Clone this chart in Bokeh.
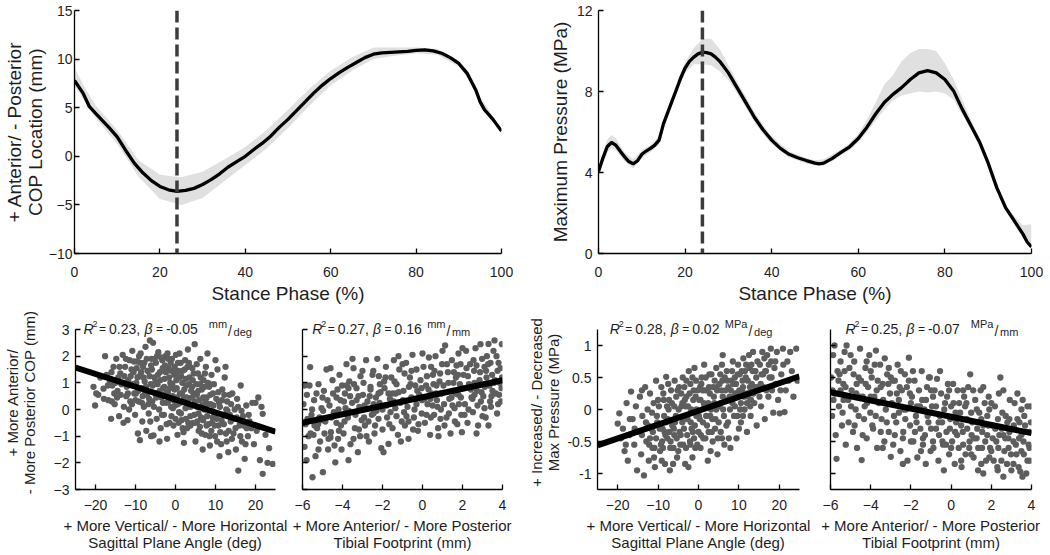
from bokeh.plotting import figure
from bokeh.models import Range1d, FixedTicker, Span, Label
from bokeh.layouts import column, row
from bokeh.embed import file_html
from bokeh.resources import INLINE

# ---------------- data ----------------
phase_ticks = [0, 20, 40, 60, 80, 100]
cop_ticks = [-10, -5, 0, 5, 10, 15]
pr_ticks = [0, 4, 8, 12]
peak_phase = 24

cop_x = [0, 2, 3.5, 5, 6.5, 8, 10, 12, 14, 16, 18, 20, 22, 24, 26, 28, 30, 32, 34, 36, 38, 40,
         42, 44, 46, 48, 50, 52, 54, 56, 58, 60, 62, 64, 66, 68, 70, 72, 74, 76, 78, 80, 82, 84,
         86, 88, 90, 92, 94, 95, 96, 98, 100]
cop_mean = [7.8, 6.5, 5.1, 4.4, 3.7, 3.0, 2.0, 0.6, -0.7, -1.7, -2.5, -3.1, -3.45, -3.6, -3.5,
            -3.3, -2.9, -2.4, -1.8, -1.1, -0.55, 0.0, 0.7, 1.35, 2.1, 3.0, 3.8, 4.7, 5.6, 6.5,
            7.3, 8.0, 8.6, 9.15, 9.65, 10.15, 10.5, 10.65, 10.7, 10.75, 10.8, 10.9, 10.95, 10.85,
            10.6, 10.15, 9.55, 8.5, 6.8, 5.6, 4.8, 3.8, 2.6]
cop_band_x = [0, 2, 5, 10, 15, 20, 25, 30, 35, 40, 45, 50, 55, 60, 65, 70, 75, 80, 85, 90, 92, 94, 95, 100]
cop_lo = [7.3, 5.9, 3.9, 1.3, -2.1, -4.4, -5.0, -4.3, -2.6, -0.9, 0.8, 2.9, 5.2, 7.3, 8.8, 10.0,
          10.35, 10.6, 10.45, 9.25, 8.1, 6.4, 5.2, 2.4]
cop_hi = [9.1, 7.4, 5.2, 2.7, -0.4, -1.9, -2.15, -1.6, -0.35, 0.95, 2.7, 4.8, 6.95, 8.8, 10.2,
          11.2, 11.2, 11.2, 11.05, 9.85, 8.9, 7.2, 6.1, 2.8]

pr_x = [0, 1, 2, 3, 4, 5, 6, 7, 8, 9, 10, 11, 12, 13, 14, 15, 16, 17, 18, 19, 20, 21, 22, 23, 24,
        25, 26, 27, 28, 30, 32, 34, 36, 38, 40, 42, 44, 46, 48, 50, 51, 52, 54, 56, 58, 60, 62,
        64, 66, 68, 70, 72, 74, 76, 78, 80, 82, 84, 86, 88, 90, 92, 94, 96, 98, 99, 100]
pr_mean = [4.05, 4.7, 5.27, 5.48, 5.35, 5.06, 4.78, 4.54, 4.43, 4.57, 4.9, 5.06, 5.19, 5.35, 5.6,
           6.4, 6.97, 7.54, 8.1, 8.68, 9.16, 9.49, 9.7, 9.86, 9.94, 9.92, 9.86, 9.7, 9.49, 8.92,
           8.19, 7.46, 6.73, 6.11, 5.6, 5.19, 4.9, 4.73, 4.59, 4.46, 4.43, 4.46, 4.7, 4.99, 5.27,
           5.68, 6.24, 6.89, 7.46, 7.86, 8.19, 8.59, 8.92, 9.03, 8.92, 8.59, 8.03, 7.13, 6.32,
           5.51, 4.46, 3.24, 2.27, 1.62, 0.97, 0.57, 0.32]
pr_band_x = [0, 2, 3, 4, 6, 8, 10, 12, 14, 16, 18, 20, 22, 24, 26, 28, 30, 32, 34, 36, 38, 40, 44,
             48, 50, 52, 54, 56, 58, 60, 62, 64, 66, 68, 70, 72, 74, 76, 78, 80, 82, 84, 86, 88,
             90, 92, 94, 96, 98, 100]
pr_lo = [3.85, 5.0, 5.2, 5.1, 4.55, 4.2, 4.7, 5.0, 5.4, 6.8, 7.9, 8.9, 9.35, 9.35, 9.3, 9.0, 8.55,
         7.9, 7.2, 6.5, 5.9, 5.4, 4.75, 4.45, 4.35, 4.35, 4.55, 4.85, 5.1, 5.5, 6.0, 6.55, 7.1,
         7.55, 7.8, 7.9, 8.0, 7.95, 8.0, 7.9, 7.6, 6.85, 6.1, 5.3, 4.3, 3.1, 2.15, 1.45, 0.8, 0.25]
pr_hi = [4.25, 5.6, 5.85, 5.7, 5.0, 4.65, 5.1, 5.35, 5.8, 7.15, 8.3, 9.45, 10.15, 10.6, 10.6, 10.1,
         9.3, 8.5, 7.75, 7.0, 6.35, 5.8, 5.05, 4.7, 4.6, 4.65, 4.9, 5.15, 5.45, 5.9, 6.6, 7.45,
         8.35, 8.8, 9.5, 9.9, 10.1, 10.1, 10.0, 9.4, 8.6, 7.6, 6.6, 5.7, 4.65, 3.4, 2.4, 1.85,
         1.4, 1.45]

angle_ticks = [-20, -10, 0, 10, 20]
foot_ticks = [-6, -4, -2, 0, 2, 4]
dcop_ticks = [-3, -2, -1, 0, 1, 2, 3]
dpr_ticks = [-1, -0.5, 0, 0.5, 1]

# panel 1: sagittal angle (deg) vs COP change (mm)
angle_cop_pts = [
    (-20.5, 0.85), (-20.1, 0.15), (-19.3, 0.55), (-18.0, 0.78), (-17.6, 2.0), (-17.2, 1.3),
    (-16.8, 0.35), (-16.4, 1.05), (-18.8, 1.2), (-16.1, -0.35),
    (-15.5, 1.6), (-15.2, 0.2), (-14.8, 1.9), (-14.5, 0.7), (-14.1, -0.25), (-13.8, 1.35),
    (-13.5, 0.95), (-13.2, 2.05), (-12.9, 0.1), (-12.6, 1.6), (-12.3, 0.5), (-12.0, -0.4),
    (-11.8, 1.1), (-11.5, 1.85), (-11.3, 0.3), (-15.8, 0.9), (-13.0, -0.5), (-14.0, 1.6),
    (-10.8, 2.2), (-10.5, 1.4), (-10.3, 0.6), (-10.1, -0.2), (-9.8, 1.0), (-9.6, 1.8),
    (-9.4, -0.9), (-9.2, 0.3), (-9.0, 1.25), (-8.9, -1.15), (-8.7, 2.1), (-8.5, 0.8),
    (-8.3, -0.45), (-8.1, 1.6), (-7.9, 0.1), (-7.7, 1.05), (-7.5, 2.35), (-7.3, -0.8),
    (-7.1, 0.55), (-6.9, 1.45), (-6.7, -0.15), (-6.4, 2.59), (-6.2, 0.95), (-6.0, 1.9), (-6.1, -1.0),
    (-5.8, 0.3), (-5.6, 2.5), (-5.5, -0.97), (-5.3, 1.2), (-5.1, 0.6), (-4.9, 1.75), (-4.7, -0.35),
    (-4.5, 0.95), (-4.3, 2.15), (-4.1, 0.0), (-3.9, 1.4), (-3.7, -0.7), (-3.5, 0.45), (-3.3, 1.85),
    (-3.1, 0.8), (-2.9, -0.2), (-2.7, 1.15), (-2.5, 2.0), (-2.3, 0.25), (-2.1, -1.1), (-1.9, 0.65),
    (-1.7, 1.55), (-1.5, -0.5), (-1.3, 1.0), (-1.1, 0.1), (-2.0, 2.1), (-4.0, -1.2), (-3.0, 0.5),
    (-0.9, 1.9), (-0.7, 0.5), (-0.5, -0.6), (-0.3, 1.3), (-0.1, 0.15), (0.1, 2.05), (0.3, 0.8),
    (0.5, -0.95), (0.7, 1.45), (0.9, -0.1), (1.1, 0.6), (1.3, 1.75), (1.5, -0.4), (1.7, 1.0),
    (1.9, 0.3), (2.1, -1.25), (2.3, 1.5), (2.5, 0.05), (2.7, 0.9), (2.9, -0.7), (3.1, 2.25),
    (3.3, 0.4), (3.5, 1.2), (3.7, -0.25), (3.9, 0.7), (1.0, 2.1), (2.0, -0.85), (3.0, 1.6),
    (4.2, 1.55), (4.4, -0.5), (4.6, 0.6), (4.8, 2.45), (5.0, -1.2), (5.2, 0.95), (5.4, 0.1),
    (5.6, 1.35), (5.8, -0.8), (6.0, 0.35), (6.2, 1.9), (6.4, -0.3), (6.6, 0.75), (6.8, -1.5),
    (7.0, 1.1), (7.2, 0.0), (7.4, -0.95), (7.6, 1.6), (7.8, 0.45), (8.0, 2.1), (8.2, -0.55),
    (8.4, 0.85), (8.6, -1.35), (8.8, 0.2), (9.0, 1.3),
    (9.3, -0.3), (9.6, 0.95), (9.9, -1.0), (10.2, 0.4), (10.5, 1.5), (10.8, -0.6), (11.1, 0.1),
    (11.4, -1.3), (11.7, 0.75), (12.0, -0.2), (12.3, 1.2), (12.6, -0.9), (12.9, 0.3), (13.2, -1.6),
    (13.5, 0.55), (13.8, -0.45), (10.0, 1.85), (11.0, -1.75), (12.5, 1.6), (13.0, -0.05),
    (14.2, 0.6), (14.5, -0.9), (14.8, 0.0), (15.1, -1.5), (15.4, 0.4), (15.7, -2.29), (16.0, -0.6),
    (16.3, 0.9), (16.6, -1.2), (16.9, -0.25), (17.3, -1.85), (17.7, 0.15), (18.1, -1.0), (18.5, -0.45),
    (19.2, 0.25), (19.6, -1.3), (20.0, 0.25), (20.3, -0.8), (20.7, 0.45), (21.1, -1.9), (21.5, 0.1),
    (21.8, -0.16), (21.8, -2.41), (22.5, -0.95), (23.4, -1.45), (24.3, -2.04), (23.0, -2.0),
    (-14.6, 0.45), (-13.7, 0.55), (-12.8, 1.25), (-12.2, 0.85), (-11.6, 0.0), (-11.0, 1.5),
    (-10.6, 0.95), (-10.0, 0.35), (-9.7, 1.55), (-9.3, 0.7), (-8.8, 1.75), (-8.4, 0.25),
    (-8.0, 1.2), (-7.6, 0.6), (-7.2, 1.9), (-6.8, 0.2), (-6.5, 1.25), (-6.3, -0.45), (-5.9, 1.5),
    (-5.4, 0.1), (-5.0, 1.05), (-4.6, 2.0), (-4.2, 0.5), (-3.8, 1.1), (-3.4, -0.2), (-3.2, 1.55),
    (-2.8, 0.85), (-2.4, 1.4), (-2.2, -0.55), (-1.8, 0.3), (-1.6, 1.2), (-1.2, 1.75), (-1.0, -0.25),
    (-0.8, 0.95), (-0.4, 0.35), (-0.2, 1.6), (0.0, -0.35), (0.2, 1.1), (0.4, 0.45), (0.6, 1.75),
    (0.8, -0.5), (1.2, 0.25), (1.4, 1.25), (1.6, 0.6), (1.8, -0.7), (2.2, 0.75), (2.4, 1.85),
    (2.6, -0.35), (2.8, 0.45), (3.2, -0.5), (3.4, 0.95), (3.6, 1.6), (3.8, 0.1), (4.1, 0.45),
    (4.3, 1.1), (4.7, -0.2), (4.9, 0.3), (5.3, 1.7), (5.5, -0.45), (5.7, 0.7), (6.1, -0.65),
    (6.3, 1.2), (6.7, 0.15), (6.9, -0.4), (7.3, 0.85), (7.5, 0.3), (7.9, -0.25), (8.1, 1.0),
    (8.5, -1.0), (8.7, 0.55), (9.1, -0.5), (9.5, 0.15), (9.8, -0.6), (10.3, -0.35), (10.7, 0.65),
    (11.2, -0.85), (11.6, 0.35), (12.1, -0.55), (12.7, 0.0), (13.3, -0.8), (13.9, 0.2),
    (14.4, -0.35), (15.0, -0.7), (15.6, 0.1), (16.2, -1.0), (17.0, -0.6), (17.5, -1.3),
    (18.3, -0.2), (19.0, -0.7), (-16.9, 0.9), (-15.9, 0.3), (-15.0, 1.0), (-17.9, 0.4), (-19.8, 0.6),
    (-13.3, 1.0), (-12.4, 1.9), (-11.9, 0.6), (-11.2, 1.25), (-10.9, 0.2), (-10.4, 1.8),
    (-9.9, 0.6), (-9.5, 1.2), (-9.1, 2.0), (-8.6, 1.4), (-8.2, 0.5), (-7.8, 1.75), (-7.4, 0.85),
    (-7.0, 1.45), (-6.6, 0.4), (-6.1, 1.65), (-5.7, 0.9), (-5.2, 1.9), (-4.8, 0.45), (-4.4, 1.3),
    (-3.95, 0.7), (-3.6, 1.95), (-3.15, 0.25), (-2.65, 1.65), (-2.35, 0.6), (-1.85, 1.9),
    (-1.45, 0.8), (-1.05, 1.45), (-0.65, 0.05), (-0.25, 0.75), (0.15, 1.4), (0.55, 0.2),
    (0.95, 1.2), (1.35, -0.15), (1.75, 1.45), (2.15, 0.45), (2.55, 1.15), (2.95, 0.1),
    (3.35, 1.75), (3.75, -0.6), (4.15, 0.85), (4.55, 1.35), (4.95, -0.5), (5.35, 0.55),
    (5.75, -0.15), (6.15, 0.95), (6.55, -0.9), (6.95, 0.45), (7.35, 1.35), (7.75, -0.6),
    (8.15, 0.2), (8.55, 0.95), (8.95, -0.8), (9.35, 0.6), (9.75, -0.2), (10.4, -1.2),
    (10.9, 0.25), (11.5, -0.4), (12.2, 0.55), (12.8, -1.2), (13.6, -0.2), (14.1, -1.1),
    (15.3, -0.3), (16.5, -0.05), (17.8, -0.7), (-16.0, 1.4), (-14.3, 1.2), (-15.3, 0.6),
]
angle_cop_fit_x = [-25, 25]
angle_cop_fit_y = [1.57, -0.83]

# panel 2: tibial footprint (mm) vs COP change (mm)
foot_cop_pts = [
    (-5.95, 0.2), (-5.9, -1.4), (-5.85, -0.55), (-5.78, 0.55), (-5.7, -1.0), (-5.62, 1.59),
    (-5.55, -0.2), (-5.5, -2.54), (-5.42, 0.35), (-5.35, -1.75), (-5.27, -0.7), (-5.2, 0.95),
    (-5.12, -1.2), (-5.05, 0.05), (-4.98, -2.35), (-5.6, -0.9), (-5.3, 0.6), (-5.8, -1.9),
    (-4.93, 0.7), (-4.86, -0.45), (-4.8, 1.5), (-4.72, -1.5), (-4.65, 0.15), (-4.58, -0.85),
    (-4.5, 1.1), (-4.43, -0.1), (-4.36, -1.98), (-4.3, 0.45), (-4.22, -1.1), (-4.15, 1.3),
    (-4.08, -0.6), (-4.02, 0.9), (-4.6, 1.55), (-4.4, -1.35), (-4.2, 0.0), (-4.75, 0.35),
    (-3.95, -0.9), (-3.88, 0.6), (-3.8, 1.7), (-3.73, -0.3), (-3.66, 1.05), (-3.6, -1.3),
    (-3.52, 0.25), (-3.45, 1.55), (-3.38, -0.7), (-3.3, 0.8), (-3.23, -1.6), (-3.16, 0.1),
    (-3.1, 1.25), (-3.04, -0.4), (-3.7, -1.9), (-3.5, 1.9), (-3.2, 0.5), (-3.85, 0.05),
    (-2.95, 1.0), (-2.88, -0.6), (-2.82, 1.85), (-2.75, 0.3), (-2.68, -1.2), (-2.6, 0.75),
    (-2.53, -0.2), (-2.46, 1.45), (-2.4, -0.9), (-2.33, 0.45), (-2.26, 1.9), (-2.2, -0.35),
    (-2.13, 0.95), (-2.06, -1.45), (-2.9, 0.15), (-2.5, 1.3), (-2.3, -0.05), (-2.1, 0.65),
    (-1.95, -1.6), (-1.9, 0.8), (-1.83, 1.6), (-1.77, -0.3), (-1.7, -1.29), (-1.63, 0.4),
    (-1.56, 1.2), (-1.5, -0.7), (-1.43, 1.85), (-1.36, 0.05), (-1.3, 0.95), (-1.23, -0.95),
    (-1.16, 1.5), (-1.1, 0.25), (-1.04, -0.45), (-1.8, 0.15), (-1.4, 1.05), (-1.2, 2.0),
    (-0.95, 0.7), (-0.88, -0.6), (-0.82, 1.75), (-0.75, 0.1), (-0.7, -1.1), (-0.63, 1.2),
    (-0.56, 0.45), (-0.5, 2.05), (-0.43, -0.3), (-0.36, 0.9), (-0.3, 1.5), (-0.23, -0.8),
    (-0.16, 0.55), (-0.1, 1.1), (-0.04, -0.15), (-0.6, 0.95), (-0.3, 0.2), (-0.9, 1.35),
    (0.05, 1.6), (0.12, -0.5), (0.18, 0.9), (0.25, 0.2), (0.32, 1.95), (0.38, -0.95),
    (0.45, 0.6), (0.52, 1.3), (0.58, -0.2), (0.65, 2.0), (0.72, 0.35), (0.78, -0.7),
    (0.85, 1.05), (0.92, 0.0), (0.98, 1.7), (0.3, 0.75), (0.6, 1.45), (0.9, -0.35),
    (1.05, 0.9), (1.13, 2.4), (1.2, -0.3), (1.27, 1.4), (1.34, 0.4), (1.4, -0.9),
    (1.47, 1.85), (1.54, 0.7), (1.6, 0.05), (1.67, 1.2), (1.74, -0.55), (1.8, 2.1),
    (1.87, 0.95), (1.94, -0.2), (1.97, -0.85), (1.3, 1.0), (1.5, 0.15), (1.7, 1.65),
    (2.05, 1.3), (2.12, 0.2), (2.18, 2.2), (2.25, -0.5), (2.32, 0.95), (2.38, 1.7),
    (2.45, 0.45), (2.52, -0.1), (2.58, 1.45), (2.65, 2.3), (2.72, 0.7), (2.78, -0.6),
    (2.85, 1.1), (2.92, 0.3), (2.98, 1.9), (2.3, 0.0), (2.6, 1.0), (2.9, 2.45),
    (3.04, 0.5), (3.1, 1.6), (3.16, -0.3), (3.22, 2.0), (3.3, 2.46), (3.35, 0.9),
    (3.42, 0.1), (3.48, 1.3), (3.55, 2.2), (3.6, 2.59), (3.67, 0.6), (3.73, -0.15),
    (3.8, 1.75), (3.86, 1.0), (3.92, 0.3), (3.97, 2.45), (3.5, 0.7), (3.75, 1.45), (3.2, 1.2),
    (-5.75, -0.35), (-5.45, -0.95), (-5.15, -0.3), (-4.9, -0.9), (-4.55, -0.3), (-4.25, 0.75),
    (-4.05, -1.5), (-3.9, -0.45), (-3.62, 0.5), (-3.35, -0.2), (-3.12, -1.0), (-2.98, 0.55),
    (-2.7, -0.45), (-2.44, 0.2), (-2.18, 1.25), (-2.0, -0.75), (-1.85, 1.2), (-1.6, -0.1),
    (-1.34, 0.6), (-1.08, -1.2), (-0.98, 0.35), (-0.8, -0.25), (-0.55, 1.45), (-0.4, 0.0),
    (-0.2, -0.55), (-0.05, 0.8), (0.1, 0.4), (0.22, 1.25), (0.42, -0.3), (0.55, 0.95),
    (0.75, 0.1), (0.95, 0.6), (1.1, -0.6), (1.22, 1.7), (1.45, 0.45), (1.62, -0.45),
    (1.78, 1.3), (1.92, 0.45), (2.1, -0.2), (2.2, 1.55), (2.42, 0.75), (2.55, 1.85),
    (2.75, 0.15), (2.88, 1.4), (3.0, -0.25), (3.12, 0.85), (3.28, 1.7), (3.45, 0.5),
    (3.62, 1.1), (3.78, 0.2), (3.9, 1.55), (3.95, 0.8), (-5.65, 0.9), (-5.0, 0.45),
    (-4.1, 0.35), (-3.0, 1.45), (-2.0, 0.0), (-1.0, 1.7), (0.0, 2.1), (1.0, 2.2), (2.0, 2.3),
    (2.7, -0.9), (-0.7, -0.45), (0.4, 0.4), (1.55, 1.0), (-2.8, -1.0), (-3.45, -1.1),
    (-4.6, -1.05), (-5.2, -1.5), (3.7, 2.0), (3.3, -0.6), (1.8, 0.55), (0.8, -1.0),
    (-1.5, 0.6), (-2.6, 0.85), (-3.8, 0.9),
    (-5.9, 0.9), (-5.52, 0.0), (-5.22, -0.55), (-4.97, -0.05), (-4.7, -1.1), (-4.47, 0.6),
    (-4.18, -0.8), (-3.93, 0.3), (-3.68, -0.05), (-3.42, 0.95), (-3.18, -0.75), (-2.92, -0.3),
    (-2.64, 0.5), (-2.37, -0.6), (-2.15, 0.25), (-1.92, 1.05), (-1.66, -0.55), (-1.45, 0.3),
    (-1.19, 0.65), (-0.92, -0.1), (-0.68, 0.85), (-0.47, -0.75), (-0.26, 0.7), (-0.02, 0.35),
    (0.2, -0.2), (0.43, 1.6), (0.68, 0.6), (0.88, 1.35), (1.08, 0.2), (1.32, -0.15),
    (1.57, 1.4), (1.82, 0.2), (2.03, 0.8), (2.27, 1.25), (2.5, 0.4), (2.7, 1.65), (2.95, 0.65),
    (3.18, 1.45), (3.38, 0.3), (3.58, 1.0), (3.83, 0.55), (3.98, 1.2), (-5.4, -0.6),
    (-4.3, -0.5), (-3.3, 0.35), (-2.2, 0.6), (-1.3, -0.25), (-0.35, 0.4), (0.7, 0.9),
    (1.65, 0.6), (2.6, 0.55), (3.4, 1.75), (-5.0, -0.4), (-3.7, 0.8), (-2.45, -0.15),
    (-0.85, 0.3), (0.5, 0.15), (1.9, 1.7), (3.1, 0.05), (-1.7, 0.6),
]
foot_cop_fit_x = [-6, 4]
foot_cop_fit_y = [-0.5, 1.1]

# panel 3: sagittal angle (deg) vs pressure change (MPa)
angle_pr_pts = [
    (-20.0, -0.22), (-19.6, -0.06), (-19.2, -0.45), (-18.7, -0.3), (-18.3, -0.65), (-17.8, 0.1),
    (-17.5, -0.8), (-17.1, -0.4), (-16.7, 0.28), (-16.3, -0.15), (-15.9, -0.55), (-15.5, 0.05),
    (-15.2, -0.95), (-18.0, -0.55),
    (-14.8, -0.35), (-14.5, 0.2), (-14.2, -0.7), (-13.9, -0.1), (-13.5, -1.03), (-13.2, 0.35),
    (-12.9, -0.5), (-12.6, 0.0), (-12.3, -0.8), (-12.0, 0.25), (-11.7, -0.3), (-11.4, -0.6),
    (-11.1, 0.1), (-10.8, -0.9), (-10.5, 0.45), (-10.2, -0.2), (-14.0, 0.3), (-12.0, -0.45),
    (-11.0, -0.75), (-13.0, -0.2),
    (-9.8, 0.05), (-9.5, -0.65), (-9.2, 0.35), (-8.9, -0.3), (-8.6, 0.15), (-8.3, -0.85),
    (-8.0, 0.51), (-7.7, -0.45), (-7.4, 0.0), (-7.1, -0.95), (-6.8, 0.3), (-6.5, -0.25),
    (-6.2, -0.6), (-5.9, 0.45), (-5.6, -0.1), (-5.3, -0.75), (-9.0, -0.5), (-7.5, 0.4),
    (-6.0, -0.4), (-8.5, -0.1), (-5.5, 0.2), (-7.0, -0.6),
    (-4.8, 0.35), (-4.5, -0.55), (-4.2, 0.05), (-3.9, 0.5), (-3.6, -0.3), (-3.3, -0.85),
    (-3.0, 0.2), (-2.7, -0.15), (-2.4, 0.6), (-2.1, -0.5), (-1.8, 0.0), (-1.5, -0.75),
    (-1.2, 0.3), (-0.9, -0.25), (-0.6, 0.45), (-0.3, -0.55), (-4.0, -0.2), (-2.5, -0.9),
    (-1.0, 0.65), (-3.5, 0.35), (-0.5, -0.1), (-2.0, 0.4),
    (0.2, 0.15), (0.5, -0.6), (0.8, 0.5), (1.1, -0.2), (1.4, 0.7), (1.7, -0.45), (2.0, 0.05),
    (2.3, -0.8), (2.6, 0.35), (2.9, -0.1), (3.2, 0.55), (3.5, -0.5), (3.8, 0.2), (4.1, -0.3),
    (4.4, 0.65), (4.7, -0.7), (1.0, 0.3), (2.5, -0.35), (4.0, 0.45), (0.0, -0.35), (3.0, -0.65),
    (1.5, 0.05),
    (5.2, 0.4), (5.5, -0.35), (5.8, 0.7), (6.1, 0.0), (6.4, -0.55), (6.7, 0.3), (7.0, 0.6),
    (7.3, -0.2), (7.6, 0.15), (7.9, -0.6), (8.2, 0.45), (8.5, 0.75), (8.8, -0.1), (9.1, 0.25),
    (9.4, -0.45), (9.7, 0.55), (6.0, 0.85), (7.5, -0.45), (9.0, 0.05), (8.0, 0.3), (5.5, 0.1),
    (10.2, 0.55), (10.5, -0.2), (10.8, 0.3), (11.1, 0.8), (11.4, 0.0), (11.7, 0.5), (12.0, -0.35),
    (12.3, 0.2), (12.6, 0.65), (12.9, -0.1), (13.2, 0.4), (13.5, 0.9), (13.8, 0.1), (14.1, 0.6),
    (14.4, -0.25), (14.7, 0.35), (11.0, 0.35), (13.0, 0.15), (12.5, 0.85), (10.5, 0.1),
    (15.2, 0.7), (15.5, 0.05), (15.8, 0.9), (16.1, 0.35), (16.4, -0.15), (16.7, 0.6), (17.0, 0.85),
    (17.3, 0.2), (17.6, 0.5), (17.9, 0.95), (18.2, 0.3), (18.5, -0.05), (18.8, 0.65), (19.1, 0.4),
    (19.4, 0.9), (19.7, 0.15), (16.0, 0.55), (18.0, 0.75),
    (20.1, -0.06), (20.5, 0.55), (20.9, 0.95), (21.3, -0.04), (21.6, 0.3), (22.0, 0.75),
    (22.3, 0.45), (22.7, 0.9), (23.1, 0.6), (23.5, 0.2), (24.2, 0.95), (24.5, 0.45), (21.0, 0.7),
    (-12.5, -0.25), (-11.5, -0.05), (-10.5, -0.45), (-10.0, 0.15), (-9.6, -0.3), (-9.1, -0.8),
    (-8.7, 0.25), (-8.2, -0.4), (-7.8, 0.05), (-7.2, -0.35), (-6.6, 0.1), (-6.3, -0.85),
    (-5.8, -0.2), (-5.2, 0.3), (-4.7, -0.35), (-4.3, 0.25), (-3.8, -0.55), (-3.2, 0.05),
    (-2.8, -0.4), (-2.2, 0.25), (-1.7, -0.3), (-1.3, 0.15), (-0.8, -0.6), (-0.2, 0.3),
    (0.3, -0.15), (0.7, 0.4), (1.2, -0.45), (1.6, 0.3), (2.1, -0.25), (2.7, 0.55), (3.1, 0.0),
    (3.6, 0.35), (4.2, -0.15), (4.6, 0.3), (5.0, -0.2), (5.4, 0.55), (6.0, 0.2), (6.5, 0.5),
    (6.9, -0.25), (7.4, 0.35), (7.8, 0.0), (8.3, 0.6), (8.7, 0.2), (9.3, 0.4), (9.6, -0.1),
    (10.1, 0.3), (10.7, 0.6), (11.3, 0.2), (11.8, 0.7), (12.2, 0.45), (12.8, 0.05), (13.4, 0.6),
    (14.0, 0.35), (14.6, 0.75), (15.1, 0.2), (15.6, 0.55), (16.3, 0.8), (16.8, 0.3), (17.4, 0.7),
    (18.1, 0.5), (19.0, 0.75), (20.3, 0.3), (-0.5, 0.0), (0.5, 0.15), (2.4, 0.1), (4.4, 0.0),
    (-2.0, -0.55), (-4.0, 0.1), (-6.0, 0.05), (-8.0, -0.2), (-14.0, -0.4), (-15.8, -0.3),
    (-17.0, -0.15), (10.0, -0.3), (12.0, 0.1), (5.8, -0.45), (3.3, -0.35), (1.8, 0.5),
    (-1.5, 0.5), (-3.0, 0.45),
    (-12.2, -0.55), (-11.3, -0.35), (-10.3, -0.1), (-9.3, -0.55), (-8.4, -0.35), (-7.6, -0.15),
    (-6.9, -0.5), (-6.1, -0.3), (-5.4, -0.45), (-4.9, 0.0), (-4.4, -0.4), (-3.7, -0.15),
    (-3.1, -0.6), (-2.6, 0.05), (-1.9, -0.2), (-1.1, -0.45), (-0.7, 0.2), (0.1, -0.1),
    (0.6, -0.4), (1.3, 0.1), (1.9, -0.1), (2.8, 0.25), (3.4, -0.15), (3.9, 0.1), (4.5, 0.35),
    (5.1, 0.05), (5.7, 0.3), (6.3, -0.1), (6.8, 0.15), (7.2, 0.45), (7.7, 0.2), (8.4, 0.1),
    (9.0, 0.5), (9.5, 0.25), (10.3, 0.0), (10.9, 0.45), (11.5, 0.6), (12.1, 0.25), (12.7, 0.35),
    (13.6, 0.25), (14.3, 0.5), (15.4, 0.4), (16.5, 0.6), (17.7, 0.35), (-8.8, -0.6), (-5.0, -0.65),
    (-1.4, -0.35), (2.2, 0.3), (5.9, 0.45), (9.8, 0.7), (13.1, 0.7), (-10.9, -0.6), (-7.3, 0.15),
    (-3.4, 0.15), (0.4, 0.35), (4.8, -0.45), (8.6, 0.4), (11.0, -0.1),
]
angle_pr_fit_x = [-25, 25]
angle_pr_fit_y = [-0.56, 0.52]

# panel 4: tibial footprint (mm) vs pressure change (MPa)
foot_pr_pts = [
    (-5.97, 0.5), (-5.92, -0.1), (-5.87, 0.85), (-5.8, 0.25), (-5.74, -0.4), (-5.7, -0.77),
    (-5.65, 0.6), (-5.58, 0.05), (-5.5, 0.75), (-5.43, -0.25), (-5.36, 0.4), (-5.3, 0.9),
    (-5.24, -0.55), (-5.2, 1.0), (-5.12, 0.15), (-5.06, 0.65), (-5.4, -0.05),
    (-4.95, 0.3), (-4.88, -0.35), (-4.82, 0.75), (-4.75, 0.0), (-4.68, -0.6), (-4.6, 0.5),
    (-4.53, 0.95), (-4.45, -0.79), (-4.4, 0.2), (-4.33, -0.15), (-4.26, 0.65), (-4.2, -0.45),
    (-4.13, 0.35), (-4.07, 0.85), (-4.02, -0.05), (-4.7, 0.4), (-4.3, 0.05),
    (-3.95, 0.5), (-3.88, -0.3), (-3.82, 0.2), (-3.74, 0.92), (-3.68, -0.6), (-3.6, 0.1),
    (-3.53, 0.7), (-3.46, -0.15), (-3.4, 0.4), (-3.32, -0.5), (-3.25, 0.0), (-3.18, 0.55),
    (-3.1, -0.35), (-3.04, 0.25), (-3.0, -0.74), (-3.7, 0.3), (-3.3, 0.8),
    (-2.95, 0.1), (-2.88, -0.55), (-2.8, 0.45), (-2.73, -0.2), (-2.66, 0.7), (-2.6, -0.05),
    (-2.52, -0.65), (-2.45, 0.3), (-2.38, -0.35), (-2.3, 0.55), (-2.24, 0.0), (-2.17, -0.8),
    (-2.1, 0.81), (-2.04, -0.25), (-2.7, 0.25), (-2.4, -0.85), (-2.2, 0.35),
    (-1.95, 0.2), (-1.88, -0.5), (-1.82, 0.45), (-1.75, -0.1), (-1.68, -0.75), (-1.6, 0.3),
    (-1.53, -0.3), (-1.46, 0.6), (-1.4, -0.55), (-1.33, 0.0), (-1.26, -0.85), (-1.2, 0.35),
    (-1.13, -0.2), (-1.06, 0.5), (-1.02, -0.65), (-1.7, 0.05), (-1.3, -0.4),
    (-0.95, 0.05), (-0.88, -0.6), (-0.82, 0.3), (-0.75, -0.3), (-0.7, 0.48), (-0.63, -0.8),
    (-0.56, -0.1), (-0.5, 0.25), (-0.43, -0.5), (-0.36, -0.95), (-0.3, 0.1), (-0.23, -0.35),
    (-0.16, 0.4), (-0.1, -0.7), (-0.04, -0.15), (-0.6, -0.4), (-0.2, 0.2),
    (0.05, -0.5), (0.12, 0.1), (0.18, -0.85), (0.25, -0.2), (0.32, 0.3), (0.38, -0.6),
    (0.45, -0.05), (0.52, -0.9), (0.58, -0.35), (0.65, 0.2), (0.72, -0.7), (0.78, -0.15),
    (0.85, 0.35), (0.92, -0.5), (0.95, 0.55), (0.3, -0.4), (0.7, 0.05),
    (1.05, -0.2), (1.12, -0.75), (1.2, 0.15), (1.27, -0.45), (1.34, -0.95), (1.4, -0.05),
    (1.47, 0.3), (1.54, -0.6), (1.6, -0.25), (1.67, 0.1), (1.74, -0.8), (1.8, -0.4),
    (1.87, 0.2), (1.94, -0.6), (1.3, -0.3), (1.6, -1.0), (1.9, 0.0),
    (2.05, -0.25), (2.12, -0.8), (2.18, 0.05), (2.25, -0.5), (2.32, -0.95), (2.38, 0.25),
    (2.45, 0.5), (2.52, -0.3), (2.6, -1.05), (2.65, -0.65), (2.72, -0.1), (2.78, -0.85),
    (2.85, -0.45), (2.92, 0.15), (2.98, -0.7), (2.4, -0.4), (2.8, -0.2),
    (3.04, -0.3), (3.1, -0.85), (3.16, 0.1), (3.22, -0.55), (3.3, -0.15), (3.36, -0.9),
    (3.44, -0.97), (3.5, -0.4), (3.56, 0.15), (3.62, -0.7), (3.68, -0.25), (3.74, -1.0),
    (3.8, 0.05), (3.86, -0.55), (3.92, -0.8), (3.97, -0.2), (3.5, -0.65),
    (-5.9, 0.3), (-5.6, 0.45), (-5.35, 0.15), (-5.1, -0.2), (-4.85, 0.55), (-4.55, 0.2),
    (-4.25, 0.4), (-4.0, 0.6), (-3.75, -0.1), (-3.5, 0.35), (-3.2, -0.2), (-2.9, 0.45),
    (-2.6, 0.15), (-2.35, 0.0), (-2.05, 0.25), (-1.8, -0.35), (-1.55, 0.05), (-1.25, 0.15),
    (-1.0, -0.3), (-0.75, 0.05), (-0.45, -0.2), (-0.25, -0.55), (0.0, 0.05), (0.2, -0.35),
    (0.4, 0.1), (0.6, -0.55), (0.8, -0.3), (1.0, -0.05), (1.15, -0.45), (1.35, -0.6),
    (1.5, -0.15), (1.7, -0.5), (1.85, -0.25), (2.0, -0.65), (2.2, -0.3), (2.35, -0.6),
    (2.55, -0.05), (2.7, -0.45), (2.9, -0.15), (3.1, -0.5), (3.25, -0.7), (3.4, -0.2),
    (3.6, -0.5), (3.75, -0.35), (3.9, -0.6), (-5.5, 0.3), (-5.0, 0.85), (-4.0, 0.2),
    (-3.0, 0.5), (-2.0, -0.5), (-1.0, 0.3), (0.0, -0.6), (1.0, -0.7), (2.0, 0.1), (3.0, -0.95),
    (3.95, 0.05), (-4.8, -0.25), (-3.8, 0.7), (-2.8, -0.4), (-1.9, 0.6), (-0.9, -0.5),
    (0.1, 0.4), (1.1, 0.3), (2.3, -0.9), (3.3, 0.25), (-5.8, 1.0), (-4.4, -0.4), (-3.4, -0.6),
    (-2.5, 0.6), (-1.5, -0.65), (-0.55, 0.6), (0.5, -0.8), (1.5, -0.85), (2.6, 0.3), (3.55, -1.05),
    (-5.85, 0.15), (-5.55, 0.55), (-5.25, 0.35), (-4.98, 0.05), (-4.72, 0.25), (-4.48, 0.45),
    (-4.18, 0.1), (-3.92, -0.25), (-3.65, 0.45), (-3.38, 0.15), (-3.12, 0.4), (-2.84, -0.1),
    (-2.56, 0.35), (-2.28, -0.15), (-2.0, 0.1), (-1.72, -0.2), (-1.44, 0.15), (-1.17, -0.1),
    (-0.9, 0.2), (-0.62, -0.2), (-0.34, 0.0), (-0.06, -0.3), (0.22, -0.05), (0.5, -0.25),
    (0.76, 0.1), (1.02, -0.4), (1.28, 0.0), (1.55, -0.35), (1.8, -0.1), (2.07, -0.45),
    (2.33, -0.15), (2.6, -0.4), (2.86, -0.6), (3.12, -0.25), (3.38, -0.45), (3.64, -0.1),
    (3.9, -0.35), (-5.3, 0.6), (-4.2, 0.75), (-3.1, 0.65), (-2.1, 0.45), (-1.1, 0.5),
    (-0.1, 0.3), (0.9, -0.6), (1.9, -0.75), (2.9, -0.35), (3.8, -0.8), (-4.6, -0.1),
    (-3.5, -0.35), (-2.4, -0.45), (-1.4, -0.45), (-0.4, -0.55), (0.6, 0.3), (1.6, 0.35),
    (2.5, -0.8), (3.5, 0.0),
]
foot_pr_fit_x = [-6, 4]
foot_pr_fit_y = [0.27, -0.37]

# ---------------- style ----------------
FONT = "Liberation Sans"
TXT = "#1e1e1e"
DOT = "#5e5e5e"
BAND = "#e0e0e0"

CHAR_W = {' ': 278, '=': 584, '.': 278, ',': 278, '-': 700, 'R': 722, 'β': 600,
          'm': 833, 'M': 833, 'P': 667, 'a': 556, 'd': 556, 'e': 556, 'g': 556, '/': 278}


def text_w(s, size):
    return sum(CHAR_W.get(c, 556) for c in s) * size / 1000.0


def style(p, tick_size, title_size, title_lh, xl_so, xt_so, yl_so, yt_so, hide_y_labels=False):
    p.outline_line_color = None
    p.xgrid.visible = False
    p.ygrid.visible = False
    p.background_fill_color = "white"
    p.border_fill_color = "white"
    for ax in (p.xaxis[0], p.yaxis[0]):
        ax.axis_line_color = "black"
        ax.axis_line_width = 1.3
        ax.major_tick_in = 5
        ax.major_tick_out = 0
        ax.minor_tick_in = 0
        ax.minor_tick_out = 0
        ax.major_tick_line_color = "black"
        ax.major_tick_line_width = 1.3
        ax.minor_tick_line_color = None
        ax.major_label_text_font = FONT
        ax.major_label_text_font_size = f"{tick_size}px"
        ax.major_label_text_color = TXT
        ax.axis_label_text_font = FONT
        ax.axis_label_text_font_size = f"{title_size}px"
        ax.axis_label_text_font_style = "normal"
        ax.axis_label_text_color = TXT
        ax.axis_label_text_line_height = title_lh
    p.xaxis[0].major_label_standoff = xl_so
    p.xaxis[0].axis_label_standoff = xt_so
    p.yaxis[0].major_label_standoff = yl_so
    p.yaxis[0].axis_label_standoff = yt_so
    if hide_y_labels:
        p.yaxis[0].major_label_overrides = {t: "" for t in p.yaxis[0].ticker.ticks}
        p.yaxis[0].major_label_standoff = 0


def put(p, x0, y0, off, dy, txt, size, fs="normal"):
    p.add_layout(Label(x=x0, y=y0, x_offset=off, y_offset=dy, text=txt,
                       text_font=FONT, text_font_size=f"{size}px", text_font_style=fs,
                       text_color=TXT, text_align="left", text_baseline="alphabetic"))


def stat_label(p, x0, y0, start, r2, beta, u_top, u_bot):
    put(p, x0, y0, start, 1, "R", 14, "italic")
    put(p, x0, y0, start + 9, 6, "2", 9)
    put(p, x0, y0, start + 15.5, 1, "=", 12)
    v1 = r2 + ","
    put(p, x0, y0, start + 25.5, 1, v1, 14)
    xb = start + 25.5 + text_w(v1, 14) * 1.05 + 2.7
    put(p, x0, y0, xb, 1, "β", 14, "italic")
    put(p, x0, y0, xb + 11.5, 1, "=", 12)
    put(p, x0, y0, xb + 21.5, 1, beta, 14)
    xu = xb + 21.5 + text_w(beta, 14) * 1.05 + 4
    put(p, x0, y0, xu, 6, u_top, 11)
    xs = xu + text_w(u_top, 11) * 1.05
    put(p, x0, y0, xs, -1, "/", 14)
    put(p, x0, y0, xs + 5.5, -2, u_bot, 11)


def make_scatter(pts, fit_x, fit_y, xr, yr, ytop, xt, yt, w, mbl, mbr, xlabel, ylabel, hide_y, yt_so):
    p = figure(width=w, height=249, x_range=Range1d(*xr), y_range=Range1d(yr[0], ytop),
               output_backend="svg", toolbar_location=None, title=None,
               min_border_left=mbl, min_border_right=mbr, min_border_top=9, min_border_bottom=66)
    p.xaxis.ticker = FixedTicker(ticks=xt)
    p.yaxis.ticker = FixedTicker(ticks=yt)
    p.yaxis.bounds = yr
    p.xaxis.axis_label = xlabel
    p.yaxis.axis_label = ylabel
    xs = [a for a, b in pts]
    ys = [b for a, b in pts]
    p.scatter(xs, ys, size=6.3, fill_color=DOT, line_color=None)
    p.line(fit_x, fit_y, line_color="black", line_width=6)
    style(p, 14, 15, 1.0, 10, 4, 6, yt_so, hide_y_labels=hide_y)
    return p


# ---------------- top: COP ----------------
pA = figure(width=525, height=306, x_range=Range1d(0, 100), y_range=Range1d(-10, 15),
            output_backend="svg", toolbar_location=None, title=None,
            min_border_left=73, min_border_right=24, min_border_top=7, min_border_bottom=50)
pA.varea(cop_band_x, cop_lo, cop_hi, fill_color=BAND)
pA.line(cop_x, cop_mean, line_color="black", line_width=3.3)
pA.add_layout(Span(location=peak_phase, dimension="height", line_color="#3c3c3c",
                   line_width=3.5, line_dash="12 5"))
pA.xaxis.ticker = FixedTicker(ticks=phase_ticks)
pA.yaxis.ticker = FixedTicker(ticks=cop_ticks)
pA.xaxis.axis_label = "Stance Phase (%)"
pA.yaxis.axis_label = "+ Anterior/ - Posterior\nCOP Location (mm)"
style(pA, 14, 19, 1.0, 13, 3, 2, 0)

# ---------------- top: pressure ----------------
pB = figure(width=518, height=306, x_range=Range1d(0, 100), y_range=Range1d(0, 12),
            output_backend="svg", toolbar_location=None, title=None,
            min_border_left=73, min_border_right=12, min_border_top=10, min_border_bottom=49)
pB.varea(pr_band_x, pr_lo, pr_hi, fill_color=BAND)
pB.line(pr_x, pr_mean, line_color="black", line_width=3.3)
pB.add_layout(Span(location=peak_phase, dimension="height", line_color="#3c3c3c",
                   line_width=3.5, line_dash="12 5"))
pB.xaxis.ticker = FixedTicker(ticks=phase_ticks)
pB.yaxis.ticker = FixedTicker(ticks=pr_ticks)
pB.xaxis.axis_label = "Stance Phase (%)"
pB.yaxis.axis_label = "Maximum Pressure (MPa)"
style(pB, 14, 19, 1.1, 13, 3, 6, 3)

# ---------------- bottom scatter panels ----------------
ANG_T = "+ More Vertical/ - More Horizontal\nSagittal Plane Angle (deg)"
FOOT_T = "+ More Anterior/ - More Posterior\nTibial Footprint (mm)"

p1 = make_scatter(angle_cop_pts, angle_cop_fit_x, angle_cop_fit_y, (-25, 25), (-3, 3), 3.525,
                  angle_ticks, dcop_ticks, 291, 74, 16, ANG_T,
                  "+ More Anterior/\n- More Posterior COP (mm)", False, 13)
stat_label(p1, -25, 3, 8, "0.23", "-0.05", "mm", "deg")

p2 = make_scatter(foot_cop_pts, foot_cop_fit_x, foot_cop_fit_y, (-6, 4), (-3, 3), 3.525,
                  foot_ticks, dcop_ticks, 231, 11, 20, FOOT_T, "", True, 0)
stat_label(p2, -6, 3, 9.7, "0.27", "0.16", "mm", "mm")

p3 = make_scatter(angle_pr_pts, angle_pr_fit_x, angle_pr_fit_y, (-25, 25), (-1.25, 1.25), 1.46875,
                  angle_ticks, dpr_ticks, 293, 75, 16, ANG_T,
                  "+ Increased/ - Decreased\nMax Pressure (MPa)", False, 2)
p3.yaxis[0].major_label_overrides = {-1: "-1", -0.5: "-0.5", 0: "0", 0.5: "0.5", 1: "1"}
stat_label(p3, -25, 1.25, 12.3, "0.28", "0.02", "MPa", "deg")

p4 = make_scatter(foot_pr_pts, foot_pr_fit_x, foot_pr_fit_y, (-6, 4), (-1.25, 1.25), 1.46875,
                  foot_ticks, dpr_ticks, 228, 15, 12, FOOT_T, "", True, 0)
stat_label(p4, -6, 1.25, 15, "0.25", "-0.07", "MPa", "mm")

layout = column(row(pA, pB), row(p1, p2, p3, p4))
open("out.html", "w").write(file_html(layout, INLINE))
